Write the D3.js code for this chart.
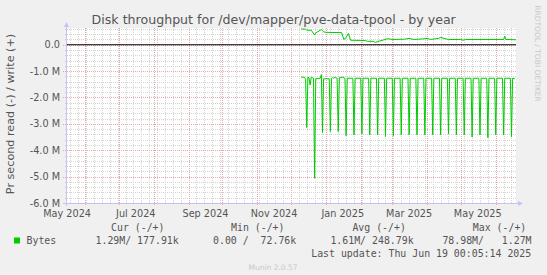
<!DOCTYPE html>
<html>
<meta charset=utf-8>
<head>
<style>
  body { margin: 0; background: #f0f0f0; }
  svg { display: block; }
  text { font-family: 'DejaVu Sans', sans-serif; fill: #555; }
  .mono { font-family: 'DejaVu Sans Mono', monospace; white-space: pre; }
</style>
</head>
<body>
<svg id="canvas" width="547" height="275"></svg>
<script src="https://d3js.org/d3.v7.min.js"></script>
<script>

var title = 'Disk throughput for /dev/mapper/pve-data-tpool - by year';
var yLabel = 'Pr second read (-) / write (+)';
var lastUpdate = '2025-06-19T00:05:14Z';
var spanDays = 400;

// write (+), M bytes per second
var writePoints = [
  ['2024-12-10', 0.60], ['2024-12-14', 0.59], ['2024-12-15', 0.55], ['2024-12-19', 0.55],
  ['2024-12-22', 0.37], ['2024-12-23', 0.45], ['2024-12-27', 0.55], ['2024-12-28', 0.58],
  ['2024-12-30', 0.49], ['2025-01-01', 0.47], ['2025-01-15', 0.46], ['2025-01-17', 0.20],
  ['2025-01-19', 0.27], ['2025-01-21', 0.43], ['2025-01-23', 0.17], ['2025-02-05', 0.16],
  ['2025-02-07', 0.13], ['2025-02-12', 0.13], ['2025-02-14', 0.09], ['2025-02-17', 0.13],
  ['2025-02-21', 0.18], ['2025-02-25', 0.23], ['2025-03-01', 0.20], ['2025-03-12', 0.21],
  ['2025-03-16', 0.24], ['2025-03-20', 0.20], ['2025-03-28', 0.22], ['2025-04-01', 0.24],
  ['2025-04-04', 0.20], ['2025-04-11', 0.24], ['2025-04-13', 0.28], ['2025-04-16', 0.24],
  ['2025-04-20', 0.20], ['2025-05-01', 0.20], ['2025-05-03', 0.17], ['2025-05-05', 0.20],
  ['2025-06-08', 0.20], ['2025-06-09', 0.33], ['2025-06-10', 0.20], ['2025-06-19', 0.19]
];

// read (-), M bytes per second, plotted below zero; weekly Sunday peaks
var readPoints = [
  ['2024-12-10', 1.23], ['2024-12-13', 1.23], ['2024-12-14', 1.31], ['2024-12-15', 3.14],
  ['2024-12-16', 1.23], ['2024-12-17', 1.25], ['2024-12-18', 1.53], ['2024-12-19', 1.23],
  ['2024-12-21', 1.27], ['2024-12-22', 5.06], ['2024-12-23', 1.29], ['2024-12-27', 1.27],
  ['2024-12-28', 1.13], ['2024-12-29', 3.33], ['2024-12-30', 1.29], ['2025-01-04', 1.29],
  ['2025-01-05', 3.29], ['2025-01-06', 1.27], ['2025-01-07', 1.24], ['2025-01-08', 1.27],
  ['2025-01-09', 1.24], ['2025-01-11', 1.27], ['2025-01-12', 3.29], ['2025-01-13', 1.25],
  ['2025-01-16', 1.23], ['2025-01-18', 1.27], ['2025-01-19', 3.45], ['2025-01-20', 1.27],
  ['2025-01-25', 1.27], ['2025-01-26', 3.42], ['2025-01-27', 1.27],
  ['2025-02-01', 1.27], ['2025-02-02', 3.38], ['2025-02-03', 1.27],
  ['2025-02-08', 1.27], ['2025-02-09', 3.42], ['2025-02-10', 1.27],
  ['2025-02-15', 1.27], ['2025-02-16', 3.42], ['2025-02-17', 1.27],
  ['2025-02-22', 1.27], ['2025-02-23', 3.48], ['2025-02-24', 1.27],
  ['2025-03-01', 1.27], ['2025-03-02', 3.45], ['2025-03-03', 1.27],
  ['2025-03-08', 1.27], ['2025-03-09', 3.42], ['2025-03-10', 1.27],
  ['2025-03-15', 1.27], ['2025-03-16', 3.42], ['2025-03-17', 1.27],
  ['2025-03-22', 1.27], ['2025-03-23', 3.42], ['2025-03-24', 1.27],
  ['2025-03-29', 1.27], ['2025-03-30', 3.42], ['2025-03-31', 1.27],
  ['2025-04-05', 1.27], ['2025-04-06', 3.42], ['2025-04-07', 1.27],
  ['2025-04-12', 1.27], ['2025-04-13', 3.42], ['2025-04-14', 1.27],
  ['2025-04-19', 1.27], ['2025-04-20', 3.38], ['2025-04-21', 1.27],
  ['2025-04-26', 1.27], ['2025-04-27', 3.42], ['2025-04-28', 1.27],
  ['2025-05-03', 1.27], ['2025-05-04', 3.42], ['2025-05-05', 1.27],
  ['2025-05-10', 1.27], ['2025-05-11', 3.50], ['2025-05-12', 1.27],
  ['2025-05-17', 1.27], ['2025-05-18', 3.42], ['2025-05-19', 1.27],
  ['2025-05-24', 1.27], ['2025-05-25', 3.52], ['2025-05-26', 1.27],
  ['2025-05-31', 1.27], ['2025-06-01', 3.42], ['2025-06-02', 1.27],
  ['2025-06-07', 1.27], ['2025-06-08', 3.42], ['2025-06-09', 1.27],
  ['2025-06-14', 1.27], ['2025-06-15', 3.50], ['2025-06-16', 1.27],
  ['2025-06-18', 1.29]
];

var yTicks = [0, -1e6, -2e6, -3e6, -4e6, -5e6, -6e6];
var legendName = 'Bytes';
var legendHeads = ['Cur (-/+)', 'Min (-/+)', 'Avg (-/+)', 'Max (-/+)'];
var legendValues = ['1.29M/ 177.91k', '0.00 /  72.76k', '1.61M/ 248.79k', '78.98M/   1.27M'];
var updateText = 'Last update: Thu Jun 19 00:05:14 2025';
var version = 'Munin 2.0.57';
var watermark = 'RRDTOOL / TOBI OETIKER';

var lineColor = '#00cc00';
var plotLeft = 66, plotRight = 516, plotTop = 28, plotBottom = 203;

var svg = d3.select('#canvas');
svg.append('rect').attr('width', 547).attr('height', 275).attr('fill', '#f0f0f0');
svg.append('rect')
  .attr('x', plotLeft).attr('y', plotTop)
  .attr('width', plotRight - plotLeft).attr('height', plotBottom - plotTop)
  .attr('fill', '#fff');

var end = new Date(lastUpdate);
var start = d3.utcDay.offset(end, -spanDays);
var x = d3.scaleUtc().domain([start, end]).range([plotLeft, plotRight]);
var y = d3.scaleLinear().domain([-6e6, 0.635e6]).range([plotBottom, plotTop]);
var px = function(v) { return Math.round(v) + 0.5; };

// grid
var grid = svg.append('g').attr('shape-rendering', 'crispEdges').attr('stroke-dasharray', '1,1');
var minorY = d3.range(-30, 4).map(function(i) { return i * 2e5; });
grid.selectAll('.hmin').data(minorY).enter().append('line')
  .attr('x1', plotLeft - 1).attr('x2', plotRight)
  .attr('y1', function(d) { return px(y(d)); }).attr('y2', function(d) { return px(y(d)); })
  .attr('stroke', '#d4d4d4');
var sundays = d3.utcSunday.range(start, end);
grid.selectAll('.vmin').data(sundays).enter().append('line')
  .attr('x1', function(d) { return px(x(d)); }).attr('x2', function(d) { return px(x(d)); })
  .attr('y1', plotTop).attr('y2', plotBottom + 1)
  .attr('stroke', '#d4d4d4');
grid.selectAll('.hmaj').data(yTicks).enter().append('line')
  .attr('x1', plotLeft - 3).attr('x2', plotRight)
  .attr('y1', function(d) { return px(y(d)); }).attr('y2', function(d) { return px(y(d)); })
  .attr('stroke', '#e8a8a8');
var months = d3.utcMonth.range(start, end);
grid.selectAll('.vmaj').data(months).enter().append('line')
  .attr('x1', function(d) { return px(x(d)); }).attr('x2', function(d) { return px(x(d)); })
  .attr('y1', plotTop).attr('y2', plotBottom + 3)
  .attr('stroke', '#e8a8a8');

// data
var parse = d3.utcParse('%Y-%m-%d');
var line = d3.line()
  .x(function(d) { return x(parse(d[0])); })
  .y(function(d) { return y(d[1] * 1e6); });
svg.append('path')
  .datum(readPoints.map(function(d) { return [d[0], -d[1]]; }))
  .attr('d', line).attr('fill', 'none').attr('stroke', lineColor).attr('stroke-width', 1);
svg.append('path')
  .datum(writePoints)
  .attr('d', line).attr('fill', 'none').attr('stroke', lineColor).attr('stroke-width', 1);

// zero line
svg.append('line')
  .attr('x1', plotLeft).attr('x2', plotRight)
  .attr('y1', y(0)).attr('y2', y(0))
  .attr('stroke', '#000').attr('stroke-width', 1.2);

// axes with arrows
var axisColor = '#c4c4f4';
svg.append('line').attr('x1', plotLeft + 0.5).attr('x2', plotLeft + 0.5)
  .attr('y1', plotBottom + 3).attr('y2', plotTop - 3).attr('stroke', axisColor);
svg.append('line').attr('x1', plotLeft - 3).attr('x2', plotRight + 3)
  .attr('y1', plotBottom + 0.5).attr('y2', plotBottom + 0.5).attr('stroke', axisColor);
svg.append('path')
  .attr('d', 'M' + (plotLeft - 2) + ',' + (plotTop - 1) + 'L' + (plotLeft + 3) + ',' + (plotTop - 1) + 'L' + (plotLeft + 0.5) + ',' + (plotTop - 6) + 'Z')
  .attr('fill', axisColor);
svg.append('path')
  .attr('d', 'M' + (plotRight + 2) + ',' + (plotBottom - 2) + 'L' + (plotRight + 2) + ',' + (plotBottom + 3) + 'L' + (plotRight + 7) + ',' + (plotBottom + 0.5) + 'Z')
  .attr('fill', axisColor);

// y labels
svg.selectAll('.ylab').data(yTicks).enter().append('text')
  .attr('x', 60).attr('y', function(d) { return y(d) + 3.5; })
  .attr('text-anchor', 'end').attr('font-size', 9.7)
  .text(function(d) { return d === 0 ? '0.0' : (d / 1e6).toFixed(1) + ' M'; });

// x labels, centered mid-month
var labelMonths = d3.utcMonth.every(2).range(d3.utcMonth.floor(start), end);
svg.selectAll('.xlab').data(labelMonths).enter().append('text')
  .attr('x', function(d) { return x(d3.utcDay.offset(d, 15)); }).attr('y', 216.5)
  .attr('text-anchor', 'middle').attr('font-size', 9.7)
  .text(d3.utcFormat('%b %Y'));

// titles
svg.append('text').attr('x', 273.7).attr('y', 24)
  .attr('text-anchor', 'middle').attr('font-size', 12.6).text(title);
svg.append('text').attr('transform', 'translate(14,114) rotate(-90)')
  .attr('text-anchor', 'middle').attr('font-size', 11.2).text(yLabel);
svg.append('text').attr('transform', 'translate(534.5,53.5) rotate(90)')
  .attr('text-anchor', 'middle').attr('font-size', 7.5).style('fill', '#c8c8c8').text(watermark);

// legend
var headX = [111, 231, 352.4, 472.8];
var valX = [95.5, 213, 330.4, 442.4];
var fs = 9.9;
svg.selectAll('.lhead').data(legendHeads).enter().append('text')
  .attr('class', 'mono').attr('font-size', fs)
  .attr('x', function(d, i) { return headX[i]; }).attr('y', 231)
  .text(function(d) { return d; });
svg.append('rect').attr('x', 14).attr('y', 237.5).attr('width', 6).attr('height', 6).attr('fill', lineColor);
svg.append('text').attr('class', 'mono').attr('font-size', fs).attr('x', 26.5).attr('y', 244).text(legendName);
svg.selectAll('.lval').data(legendValues).enter().append('text')
  .attr('class', 'mono').attr('font-size', fs)
  .attr('x', function(d, i) { return valX[i]; }).attr('y', 244)
  .text(function(d) { return d; });
svg.append('text').attr('class', 'mono').attr('font-size', fs)
  .attr('x', 311.2).attr('y', 257).text(updateText);
svg.append('text').attr('x', 273).attr('y', 270.3)
  .attr('text-anchor', 'middle').attr('font-size', 7.5).style('fill', '#c8c8c8').text(version);

</script>
</body>
</html>
